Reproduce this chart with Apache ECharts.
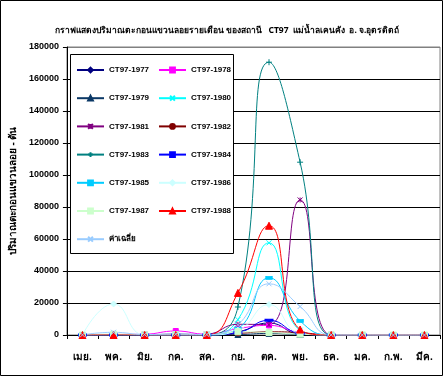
<!DOCTYPE html>
<html>
<head>
<meta charset="utf-8">
<script src="https://cdn.jsdelivr.net/npm/echarts@6/dist/echarts.min.js"></script>
<style>
html,body{margin:0;padding:0;background:#fff;}
#c{width:445px;height:377px;}
</style>
</head>
<body>
<div id="c"></div>
<script>
const months = ['เมย.','พค.','มิย.','กค.','สค.','กย.','ตค.','พย.','ธค.','มค.','ก.พ.','มีค.'];
const yTicks = [0,20000,40000,60000,80000,100000,120000,140000,160000,180000];

const ct1977 = [0,300,200,500,300,2000,7500,500,0,0,0,0];
const ct1978 = [0,300,500,2500,500,4000,6000,1500,200,0,0,0];
const ct1979 = [0,100,200,300,200,300,1000,300,0,0,0,0];
const ct1980 = [0,0,0,0,200,9600,57600,3000,0,0,0,0];
const ct1981 = [0,0,0,0,500,6700,6500,84400,0,0,0,0];
const ct1982 = [0,0,0,200,200,1000,2000,1500,0,0,0,0];
const ct1983 = [0,0,0,0,0,17500,170500,108000,0,0,0,0];
const ct1984 = [0,0,0,0,0,1500,9200,1000,0,0,0,0];
const ct1985 = [0,0,0,0,0,4000,35700,8800,0,0,0,0];
const ct1986 = [0,19400,0,0,0,3000,19000,1000,0,0,0,0];
const ct1987 = [0,500,200,300,200,2000,1500,500,100,100,0,0];
const ct1988 = [0,0,0,0,0,26300,68300,3400,0,0,0,0];
const avg    = [100,1700,300,500,300,6500,32000,17800,100,50,0,0];

const names = ['CT97-1977','CT97-1978','CT97-1979','CT97-1980','CT97-1981','CT97-1982','CT97-1983','CT97-1984','CT97-1985','CT97-1986','CT97-1987','CT97-1988','ค่าเฉลี่ย'];
const values = [ct1977,ct1978,ct1979,ct1980,ct1981,ct1982,ct1983,ct1984,ct1985,ct1986,ct1987,ct1988,avg];

const colors = ['#000080','#FF00FF','#0B3866','#00FFFF','#800080','#800000','#008080','#0000FF','#00CCFF','#CCFFFF','#CCFFCC','#FF0000','#99CCFF'];
const X = 'path://M0,0L10,10M10,0L0,10';
const STAR = 'path://M0,0L10,10M10,0L0,10M5,0L5,10';
const PLUS = 'path://M5,0L5,10M0,5L10,5';
const symbols = ['diamond','rect','triangle',X,STAR,'circle',PLUS,'rect','rect','diamond','rect','triangle',X];
const sizes = [5,5,6,5,5,5,6,[6,2],[6,3],6,6,7,5];

const series = names.map((n,i)=>({
  name:n, type:'line', data:values[i], smooth:0.5,
  symbol:symbols[i], symbolSize:sizes[i],
  lineStyle:{color:colors[i], width:1},
  itemStyle:{color:colors[i], borderColor:colors[i], borderWidth:1},
  emphasis:{disabled:true}
}));

const legendText = {fontSize:8, fontWeight:'bold', color:'#000', fontFamily:'Liberation Sans'};
const chart = echarts.init(document.getElementById('c'), null, {renderer:'canvas'});
chart.setOption({
  animation:false,
  backgroundColor:'#fff',
  color:colors,
  title:{
    text:'กราฟแสดงปริมาณตะกอนแขวนลอยรายเดือน ของสถานี   CT97  แม่น้ำลเคนคัง  อ. จ.อุตรดิตถ์',
    left:222, top:21, textAlign:'center',
    textStyle:{fontSize:8.5, fontWeight:'bold', color:'#000', fontFamily:'Noto Sans'}
  },
  graphic:[
    {type:'rect', z:100, silent:true, shape:{x:0.5,y:0.5,width:442,height:375}, style:{fill:'none', stroke:'#000', lineWidth:1}},
    {type:'rect', z:3, silent:true, shape:{x:70.5,y:54.5,width:163,height:199}, style:{fill:'#fff', stroke:'#000', lineWidth:1}}
  ],
  legend:[
    {left:76, top:66, orient:'vertical', itemWidth:27, itemHeight:6, itemGap:20.2, padding:0, z:5,
     data:[names[0],names[2],names[4],names[6],names[8],names[10],names[12]], textStyle:legendText},
    {left:158, top:66, orient:'vertical', itemWidth:27, itemHeight:6, itemGap:20.2, padding:0, z:5,
     data:[names[1],names[3],names[5],names[7],names[9],names[11]], textStyle:legendText}
  ],
  grid:{left:62, right:5, top:47, bottom:42, show:true, borderColor:'#808080', borderWidth:1, backgroundColor:'transparent'},
  xAxis:{
    type:'category', data:months, boundaryGap:true,
    axisLine:{lineStyle:{color:'#000', width:1}},
    axisTick:{show:true, inside:false, length:4, lineStyle:{color:'#000'}},
    axisLabel:{color:'#000', fontSize:10, fontWeight:'bold', margin:17, fontFamily:'Noto Sans'}
  },
  yAxis:{
    type:'value', min:0, max:180000, interval:20000,
    name:'ปริมาณตะกอนแขวนลอย - ตัน', nameLocation:'middle', nameGap:40, nameRotate:90,
    nameTextStyle:{fontSize:10, fontWeight:'bold', color:'#000', fontFamily:'Noto Sans'},
    axisLine:{show:true, lineStyle:{color:'#000', width:1}},
    axisTick:{show:true, inside:false, length:4, lineStyle:{color:'#000'}},
    axisLabel:{color:'#000', fontSize:9, fontWeight:'bold', margin:8, fontFamily:'Liberation Sans',
      formatter:v=>yTicks.includes(v)?String(v):''},
    splitLine:{show:true, lineStyle:{color:['#000','#000','#000','#000','#000','#000','#000','#000','#000','#808080'], width:1}}
  },
  series:series
});
</script>
</body>
</html>
